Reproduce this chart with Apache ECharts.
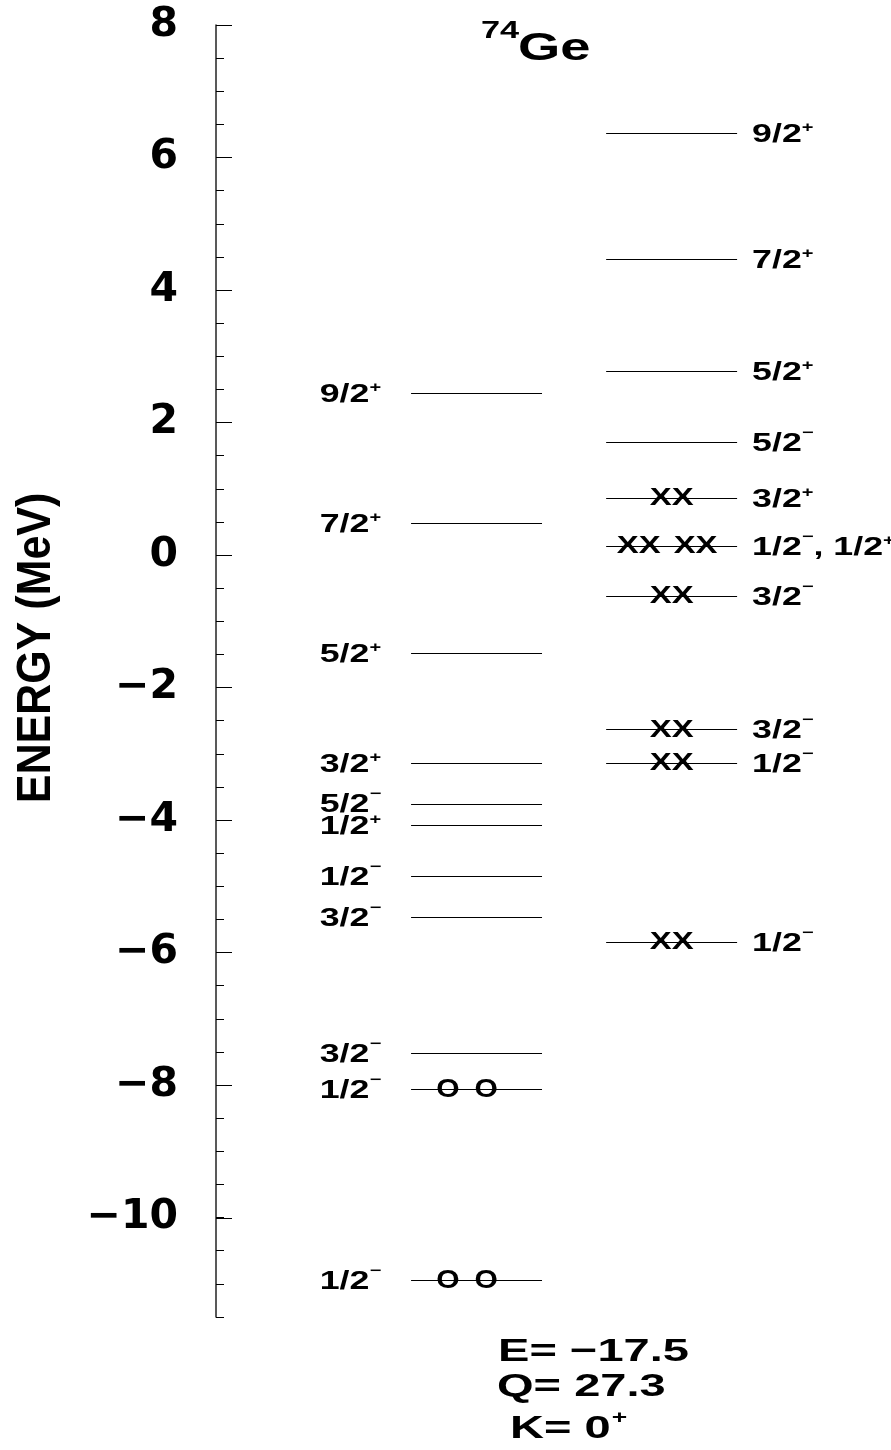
<!DOCTYPE html>
<html>
<head>
<meta charset="utf-8">
<script src="https://cdn.jsdelivr.net/npm/echarts@6/dist/echarts.min.js"></script>
<style>
html,body{margin:0;padding:0;background:#fff;}
#c{width:891px;height:1450px;}
</style>
</head>
<body>
<div id="c"></div>
<script>
// ---------------- data ----------------
const leftEnergies = [2.44, 0.48, -1.48, -3.14, -3.75, -4.08, -4.85, -5.46, -7.52, -8.06, -10.94];
const leftLabels   = ['9/2+', '7/2+', '5/2+', '3/2+', '5/2-', '1/2+', '1/2-', '3/2-', '3/2-', '1/2-', '1/2-'];
const leftMarks    = ['', '', '', '', '', '', '', '', '', 'O O', 'O O'];

const rightEnergies = [6.37, 4.47, 2.78, 1.71, 0.86, 0.14, -0.62, -2.63, -3.14, -5.84];
const rightLabels   = ['9/2+', '7/2+', '5/2+', '5/2-', '3/2+', '1/2-, 1/2+', '3/2-', '3/2-', '1/2-', '1/2-'];
const rightMarks    = ['', '', '', '', 'XX', 'XX XX', 'XX', 'XX', 'XX', 'XX'];

const yMajorTicks = [-10, -8, -6, -4, -2, 0, 2, 4, 6, 8];
const nucleus = {mass: '74', symbol: 'Ge'};
const infoLines = ['E= \u221217.5', 'Q= 27.3'];
const kLine = {text: 'K= 0', parity: '+'};
const yTitle = 'ENERGY (MeV)';

// ---------------- style ----------------
const FONT_NAME = 'Liberation Sans';
const FONT = '"Liberation Sans", Arial, sans-serif';
const SX = 1.43;
const COL_LEFT = 38.6, COL_RIGHT = 67.5, LEVEL_W = 19.4;
const LABEL_SIZE = 25, SUP_SIZE = 14;
const markStyle = {
  'X': {size: 23, sx: 1.43, gap: 13},
  'O': {size: 25, sx: 1.2, gap: 15}
};
const markCenter = {'O O': -9.5, 'XX XX': -4.5, 'XX': 0};

const _ctx = document.createElement('canvas').getContext('2d');
function textW(t, size) {
  _ctx.font = 'bold ' + size + 'px "' + FONT_NAME + '"';
  return _ctx.measureText(t).width;
}
function segments(s) {
  const out = [];
  s.replace(/([^+-]+)|([+-])/g, (m, a, b) => {
    if (a) out.push({t: a, sup: false});
    else out.push({t: b === '+' ? '+' : '\u2212', sup: true, minus: b === '-'});
    return m;
  });
  return out;
}
function txt(x, y, t, size, sx, align) {
  return {
    type: 'text', x: x, y: y, scaleX: sx,
    style: {text: t, fontSize: size, fontWeight: 'bold', fontFamily: FONT, fill: '#000',
            align: align || 'left', verticalAlign: 'middle'}
  };
}
// lays out a label with superscripts starting at left x, baseline-center y
function labelEls(s, anchorX, y, side) {
  const segs = segments(s);
  segs.forEach(g => { g.size = g.sup ? SUP_SIZE : LABEL_SIZE; g.w = textW(g.t, g.size) * SX; });
  const total = segs.reduce((a, g) => a + g.w, 0);
  let cur = side === 'left' ? anchorX - total : anchorX;
  const els = [];
  segs.forEach(g => {
    const dy = g.sup ? (g.minus ? -11 : -7) : 0;
    els.push(txt(cur, y + dy, g.t, g.size, SX, 'left'));
    cur += g.w;
  });
  return els;
}
function markEls(mk, cx, y) {
  const groups = mk.split(' ');
  const st = markStyle[groups[0][0]];
  const w = textW(groups[0], st.size) * st.sx;
  const spacing = w + st.gap;
  const c = cx + (markCenter[mk] || 0);
  return groups.map((g, k) => txt(c + (k - (groups.length - 1) / 2) * spacing, y, g, st.size, st.sx, 'center'));
}

function makeRender(side, labels, marks) {
  return function (params, api) {
    const i = params.dataIndex;
    const p = api.coord([api.value(0), api.value(1)]);
    const half = api.size([LEVEL_W, 0])[0] / 2;
    const y = Math.round(p[1]) + 0.5;
    let children = [{
      type: 'line',
      shape: {x1: p[0] - half, y1: y, x2: p[0] + half, y2: y},
      style: {stroke: '#000', lineWidth: 1}
    }];
    const ax = side === 'left' ? p[0] - half - 30 : p[0] + half + 15;
    children = children.concat(labelEls(labels[i], ax, p[1] + 2, side));
    if (marks[i]) children = children.concat(markEls(marks[i], p[0], p[1] + 1));
    return {type: 'group', children: children};
  };
}

const kW = textW(kLine.text, 32) * 1.47;

const chart = echarts.init(document.getElementById('c'), null, {renderer: 'canvas'});
chart.setOption({
  animation: false,
  backgroundColor: '#fff',
  grid: [
    {left: 216, top: 25, width: 675, height: 1292, containLabel: false, outerBoundsMode: 'none'},
    {left: 216, top: 25, width: 675, height: 1192.8, containLabel: false, outerBoundsMode: 'none'}
  ],
  xAxis: [
    {gridIndex: 0, type: 'value', min: 0, max: 100, show: false},
    {gridIndex: 1, type: 'value', min: 0, max: 100, show: false}
  ],
  yAxis: [
    {
      gridIndex: 0, type: 'value', min: -11.5, max: 8, interval: 0.5,
      axisLine: {show: true, onZero: false, lineStyle: {color: '#222', width: 1.5}},
      axisTick: {show: true, inside: true, length: 8, lineStyle: {color: '#000', width: 1}},
      axisLabel: {show: false},
      splitLine: {show: false}
    },
    {
      gridIndex: 1, type: 'value', min: yMajorTicks[0], max: yMajorTicks[yMajorTicks.length - 1], interval: 2,
      axisLine: {show: false},
      axisTick: {show: true, inside: true, length: 16, lineStyle: {color: '#000', width: 1}},
      axisLabel: {
        show: true, margin: 38, color: '#000',
        fontFamily: '"DejaVu Sans", sans-serif', fontWeight: 'bold', fontSize: 41,
        formatter: v => (v < 0 ? '\u2212' + (-v) : String(v))
      },
      splitLine: {show: false}
    }
  ],
  series: [
    {
      type: 'custom', xAxisIndex: 0, yAxisIndex: 0, clip: false,
      renderItem: makeRender('left', leftLabels, leftMarks),
      data: leftEnergies.map(e => [COL_LEFT, e])
    },
    {
      type: 'custom', xAxisIndex: 0, yAxisIndex: 0, clip: false,
      renderItem: makeRender('right', rightLabels, rightMarks),
      data: rightEnergies.map(e => [COL_RIGHT, e])
    }
  ],
  graphic: [
    Object.assign(txt(481, 31, nucleus.mass, 24, SX, 'left')),
    Object.assign(txt(518, 50, nucleus.symbol, 38, SX, 'left')),
    {type: 'text', x: 37, y: 648, rotation: Math.PI / 2, scaleY: 1.13,
     style: {text: yTitle, fontSize: 43, fontWeight: 'bold', fontFamily: FONT, fill: '#000', align: 'center', verticalAlign: 'middle'}},
    txt(498, 1352, infoLines[0], 32, 1.47, 'left'),
    txt(497, 1387, infoLines[1], 32, 1.47, 'left'),
    txt(510, 1429, kLine.text, 32, 1.47, 'left'),
    txt(510 + kW + 1, 1418, kLine.parity, 18, 1.47, 'left')
  ]
});
</script>
</body>
</html>
